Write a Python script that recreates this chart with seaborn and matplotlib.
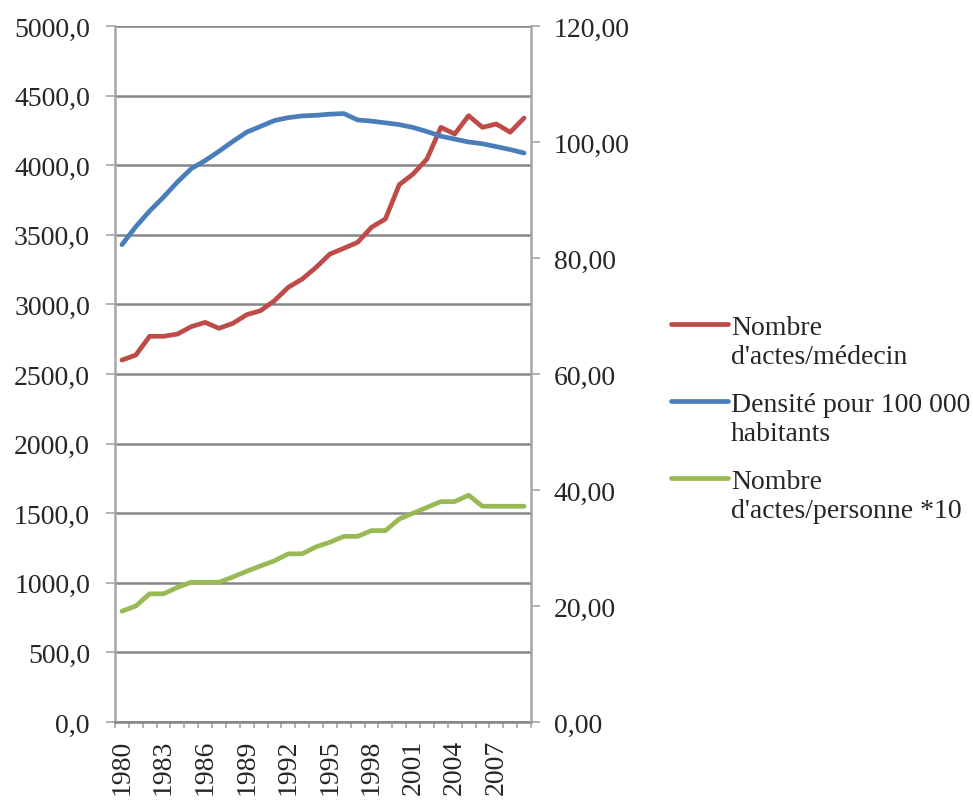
import numpy as np
import pandas as pd
import matplotlib
matplotlib.use("Agg")
import matplotlib.pyplot as plt
import seaborn as sns
from matplotlib.legend_handler import HandlerLine2D

# ---------------- data ----------------
years = list(range(1980, 2010))
actes_medecin = [2600, 2636, 2771, 2771, 2787, 2840, 2871, 2828, 2864, 2926,
                 2955, 3027, 3123, 3182, 3266, 3362, 3403, 3446, 3554, 3614,
                 3860, 3937, 4045, 4272, 4224, 4356, 4272, 4296, 4237, 4339]
densite = [82.3, 85.4, 88.1, 90.5, 93.1, 95.4, 96.8, 98.4, 100.1, 101.7,
           102.7, 103.7, 104.2, 104.5, 104.6, 104.8, 104.9, 103.8, 103.6, 103.3,
           103.0, 102.5, 101.8, 101.0, 100.5, 100.0, 99.7, 99.2, 98.7, 98.1]
actes_personne = [19.1, 20.0, 22.1, 22.1, 23.2, 24.1, 24.1, 24.1, 25.0, 26.0,
                  26.9, 27.8, 29.0, 29.0, 30.2, 31.0, 32.0, 32.0, 33.0, 33.0,
                  35.0, 36.0, 37.0, 38.0, 38.0, 39.1, 37.2, 37.2, 37.2, 37.2]
series_labels = ["Nombre\nd'actes/médecin",
                 "Densité pour 100 000\nhabitants",
                 "Nombre\nd'actes/personne *10"]
left_ticks = [0, 500, 1000, 1500, 2000, 2500, 3000, 3500, 4000, 4500, 5000]
left_tick_labels = ["0,0", "500,0", "1000,0", "1500,0", "2000,0", "2500,0",
                    "3000,0", "3500,0", "4000,0", "4500,0", "5000,0"]
right_ticks = [0, 20, 40, 60, 80, 100, 120]
right_tick_labels = ["0,00", "20,00", "40,00", "60,00", "80,00", "100,00", "120,00"]
year_labels = [str(y) for y in years[::3]]

RED = "#BE4B48"
BLUE = "#4A7EBB"
GREEN = "#98B954"
AXIS_GREY = "#A6A6A6"
GRID_GREY = "#868686"

sns.set_style("white")
plt.rcParams['font.family'] = ['Liberation Serif', 'DejaVu Serif']
plt.rcParams['font.size'] = 20

df = pd.DataFrame({
    "pos": np.arange(len(years)),
    "year": years,
    "actes_medecin": actes_medecin,
    "densite": densite,
    "actes_personne": actes_personne,
})

fig = plt.figure(figsize=(9.73, 8.03), dpi=100)
ax = fig.add_axes([115 / 973, 1 - 723 / 803, (531 - 115) / 973, (723 - 27) / 803])
ax2 = ax.twinx()

line_kw = dict(lw=3.4, solid_capstyle="round", solid_joinstyle="round")
sns.lineplot(data=df, x="pos", y="actes_medecin", ax=ax, color=RED, legend=False, **line_kw)
sns.lineplot(data=df, x="pos", y="densite", ax=ax2, color=BLUE, legend=False, **line_kw)
sns.lineplot(data=df, x="pos", y="actes_personne", ax=ax2, color=GREEN, legend=False, **line_kw)

ax.set_xlim(-0.5, len(years) - 0.5)
ax.set_ylim(0, 5000)
ax2.set_ylim(0, 120)
ax.set_xlabel("")
ax.set_ylabel("")
ax2.set_ylabel("")

ax.set_yticks(left_ticks)
ax.set_yticklabels(left_tick_labels)
ax2.set_yticks(right_ticks)
ax2.set_yticklabels(right_tick_labels)

ax.set_xticks(df["pos"].values[::3])
ax.set_xticklabels(year_labels, rotation=90)
ax.set_xticks(np.arange(-0.5, len(years), 1.0), minor=True)

ax.yaxis.grid(True, color=GRID_GREY, lw=1.8)
ax.xaxis.grid(False)
ax.set_axisbelow(True)

for a in (ax, ax2):
    for s in a.spines.values():
        s.set_visible(False)
ax.spines["left"].set_visible(True)
ax.spines["left"].set_color(AXIS_GREY)
ax.spines["left"].set_linewidth(1.8)
ax.spines["bottom"].set_visible(True)
ax.spines["bottom"].set_color(GRID_GREY)
ax.spines["bottom"].set_linewidth(1.8)
ax2.spines["right"].set_visible(True)
ax2.spines["right"].set_color(AXIS_GREY)
ax2.spines["right"].set_linewidth(1.8)

ax.tick_params(axis="y", which="major", direction="out", length=6.5, width=1.2,
               color=AXIS_GREY, pad=11.5, labelsize=20, left=True)
ax2.tick_params(axis="y", which="major", direction="out", length=6.5, width=1.2,
                color=AXIS_GREY, pad=10, labelsize=20, right=True)
ax.tick_params(axis="x", which="major", length=0, pad=12, labelsize=20, bottom=True)
ax.tick_params(axis="x", which="minor", direction="out", length=4.5, width=1.2,
               color=AXIS_GREY, bottom=True)


class TopLineHandler(HandlerLine2D):
    def __init__(self, offset=0.0, **kw):
        super().__init__(**kw)
        self.offset = offset

    def create_artists(self, legend, orig_handle, xdescent, ydescent, width,
                       height, fontsize, trans):
        arts = super().create_artists(legend, orig_handle, xdescent, ydescent,
                                      width, height, fontsize, trans)
        for a in arts:
            a.set_ydata(np.asarray(a.get_ydata(), dtype=float) + self.offset)
        return arts


handles = [ax.get_lines()[0], ax2.get_lines()[0], ax2.get_lines()[1]]
handler = TopLineHandler(offset=13.0)
leg = fig.legend(handles, series_labels, loc="upper left",
                 bbox_to_anchor=(671 / 973, 1 - 316 / 803),
                 frameon=False, borderpad=0, borderaxespad=0,
                 handlelength=2.05, handletextpad=0.1, labelspacing=0.82,
                 fontsize=20, handler_map={h: handler for h in handles})
for t in leg.get_texts():
    t.set_linespacing(1.22)

fig.savefig("out.png", dpi=100)
